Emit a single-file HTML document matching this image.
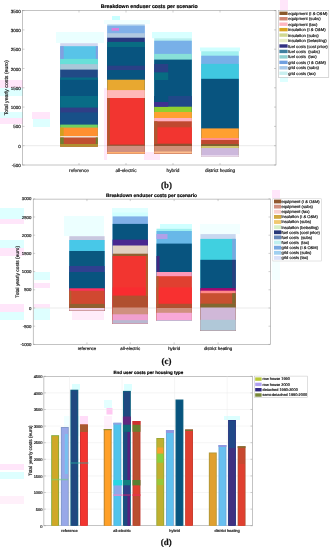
<!DOCTYPE html>
<html><head><meta charset="utf-8"><title>Enduser costs per scenario</title>
<style>html,body{margin:0;padding:0;background:#fff;overflow:hidden}svg{display:block}text{white-space:pre;text-rendering:geometricPrecision}</style>
</head><body>
<svg width="335" height="550" viewBox="0 0 335 550" shape-rendering="auto">
<rect width="335" height="550" fill="#fff"/>
<rect x="0.00" y="80.00" width="23.00" height="8.00" fill="#FFE6FA" />
<rect x="0.00" y="88.00" width="23.00" height="8.00" fill="#DEFFFF" />
<rect x="0.00" y="112.00" width="23.00" height="6.00" fill="#DEFFFF" />
<rect x="0.00" y="118.00" width="23.00" height="6.00" fill="#FFE6FA" />
<rect x="32.00" y="112.00" width="18.00" height="7.00" fill="#FFE6FA" />
<rect x="33.00" y="119.00" width="17.00" height="8.00" fill="#DEFFFF" />
<rect x="56.00" y="32.00" width="48.00" height="11.00" fill="#EAFFFF" />
<rect x="112.00" y="16.00" width="8.00" height="8.00" fill="#C8FFFF" />
<rect x="104.00" y="20.00" width="46.00" height="4.00" fill="#F0FFFF" />
<rect x="152.00" y="32.00" width="40.00" height="6.20" fill="#D8FFFF" />
<rect x="200.00" y="47.50" width="40.00" height="3.70" fill="#D0FFFF" />
<rect x="280.00" y="0.00" width="8.00" height="10.40" fill="#FFE6FA" />
<rect x="280.00" y="76.80" width="8.00" height="5.20" fill="#DEFFFF" />
<rect x="104.00" y="88.00" width="3.00" height="72.00" fill="#FFE8FA" />
<rect x="144.00" y="152.00" width="16.00" height="8.00" fill="#FFE8FA" />
<rect x="0.00" y="208.00" width="24.00" height="11.00" fill="#DEFFFF" />
<rect x="0.00" y="219.00" width="24.00" height="5.00" fill="#FFE6FA" />
<rect x="0.00" y="240.00" width="24.00" height="8.00" fill="#DEFFFF" />
<rect x="0.00" y="248.00" width="24.00" height="8.00" fill="#FFE6FA" />
<rect x="0.00" y="304.00" width="24.00" height="8.00" fill="#FFE6FA" />
<rect x="0.00" y="312.00" width="24.00" height="8.00" fill="#DEFFFF" />
<rect x="34.00" y="272.00" width="16.00" height="8.00" fill="#DEFFFF" />
<rect x="34.00" y="283.00" width="16.00" height="5.00" fill="#FFE6FA" />
<rect x="34.00" y="304.00" width="16.00" height="3.50" fill="#FFE6FA" />
<rect x="34.00" y="308.50" width="16.00" height="11.50" fill="#DEFFFF" />
<rect x="64.00" y="216.00" width="40.00" height="20.00" fill="#ECFFFF" />
<rect x="112.00" y="208.00" width="36.00" height="8.40" fill="#E0FFFF" />
<rect x="160.00" y="224.00" width="32.00" height="4.70" fill="#D0FFFF" />
<rect x="200.00" y="224.00" width="40.00" height="10.00" fill="#F2FFFF" />
<rect x="272.00" y="190.00" width="8.00" height="8.60" fill="#FFE6FA" />
<rect x="272.00" y="261.20" width="8.00" height="18.80" fill="#F4FFFF" />
<rect x="72.00" y="310.60" width="32.00" height="9.40" fill="#FFECFA" />
<rect x="0.00" y="464.00" width="24.00" height="6.00" fill="#FFE6FA" />
<rect x="0.00" y="472.00" width="24.00" height="7.00" fill="#DEFFFF" />
<rect x="0.00" y="496.00" width="24.00" height="8.00" fill="#FFF0FA" />
<rect x="80.00" y="416.00" width="8.00" height="8.50" fill="#FFDCF8" />
<rect x="106.50" y="408.00" width="6.00" height="6.50" fill="#FFC8F2" />
<rect x="104.00" y="400.00" width="8.00" height="8.00" fill="#E4FFFF" />
<rect x="104.00" y="416.00" width="8.00" height="13.00" fill="#FFF0FC" />
<rect x="64.00" y="416.00" width="16.00" height="20.00" fill="#F0FFFF" />
<rect x="72.00" y="384.00" width="8.00" height="6.00" fill="#DCFFFF" />
<rect x="124.00" y="384.00" width="8.00" height="7.00" fill="#DCFFFF" />
<rect x="224.00" y="416.00" width="16.00" height="4.00" fill="#DCFFFF" />
<rect x="22.50" y="10.50" width="253.50" height="154.50" fill="none" stroke="#888888" stroke-width="0.5"/>
<line x1="22.50" y1="145.70" x2="276.00" y2="145.70" stroke="#d4d4d4" stroke-width="0.5"/>
<line x1="22.50" y1="165.00" x2="24.50" y2="165.00" stroke="#888888" stroke-width="0.4"/>
<line x1="274.00" y1="165.00" x2="276.00" y2="165.00" stroke="#888888" stroke-width="0.4"/>
<text x="20.70" y="167.00" font-size="4.5" text-anchor="end" font-weight="normal" font-family='"Liberation Sans", sans-serif' fill="#1a1a1a" stroke="#1a1a1a" stroke-width="0.18" >-500</text>
<line x1="22.50" y1="145.70" x2="24.50" y2="145.70" stroke="#888888" stroke-width="0.4"/>
<line x1="274.00" y1="145.70" x2="276.00" y2="145.70" stroke="#888888" stroke-width="0.4"/>
<text x="20.70" y="147.70" font-size="4.5" text-anchor="end" font-weight="normal" font-family='"Liberation Sans", sans-serif' fill="#1a1a1a" stroke="#1a1a1a" stroke-width="0.18" >0</text>
<line x1="22.50" y1="126.40" x2="24.50" y2="126.40" stroke="#888888" stroke-width="0.4"/>
<line x1="274.00" y1="126.40" x2="276.00" y2="126.40" stroke="#888888" stroke-width="0.4"/>
<text x="20.70" y="128.40" font-size="4.5" text-anchor="end" font-weight="normal" font-family='"Liberation Sans", sans-serif' fill="#1a1a1a" stroke="#1a1a1a" stroke-width="0.18" >500</text>
<line x1="22.50" y1="107.10" x2="24.50" y2="107.10" stroke="#888888" stroke-width="0.4"/>
<line x1="274.00" y1="107.10" x2="276.00" y2="107.10" stroke="#888888" stroke-width="0.4"/>
<text x="20.70" y="109.10" font-size="4.5" text-anchor="end" font-weight="normal" font-family='"Liberation Sans", sans-serif' fill="#1a1a1a" stroke="#1a1a1a" stroke-width="0.18" >1000</text>
<line x1="22.50" y1="87.80" x2="24.50" y2="87.80" stroke="#888888" stroke-width="0.4"/>
<line x1="274.00" y1="87.80" x2="276.00" y2="87.80" stroke="#888888" stroke-width="0.4"/>
<text x="20.70" y="89.80" font-size="4.5" text-anchor="end" font-weight="normal" font-family='"Liberation Sans", sans-serif' fill="#1a1a1a" stroke="#1a1a1a" stroke-width="0.18" >1500</text>
<line x1="22.50" y1="68.50" x2="24.50" y2="68.50" stroke="#888888" stroke-width="0.4"/>
<line x1="274.00" y1="68.50" x2="276.00" y2="68.50" stroke="#888888" stroke-width="0.4"/>
<text x="20.70" y="70.50" font-size="4.5" text-anchor="end" font-weight="normal" font-family='"Liberation Sans", sans-serif' fill="#1a1a1a" stroke="#1a1a1a" stroke-width="0.18" >2000</text>
<line x1="22.50" y1="49.20" x2="24.50" y2="49.20" stroke="#888888" stroke-width="0.4"/>
<line x1="274.00" y1="49.20" x2="276.00" y2="49.20" stroke="#888888" stroke-width="0.4"/>
<text x="20.70" y="51.20" font-size="4.5" text-anchor="end" font-weight="normal" font-family='"Liberation Sans", sans-serif' fill="#1a1a1a" stroke="#1a1a1a" stroke-width="0.18" >2500</text>
<line x1="22.50" y1="29.90" x2="24.50" y2="29.90" stroke="#888888" stroke-width="0.4"/>
<line x1="274.00" y1="29.90" x2="276.00" y2="29.90" stroke="#888888" stroke-width="0.4"/>
<text x="20.70" y="31.90" font-size="4.5" text-anchor="end" font-weight="normal" font-family='"Liberation Sans", sans-serif' fill="#1a1a1a" stroke="#1a1a1a" stroke-width="0.18" >3000</text>
<line x1="22.50" y1="10.60" x2="24.50" y2="10.60" stroke="#888888" stroke-width="0.4"/>
<line x1="274.00" y1="10.60" x2="276.00" y2="10.60" stroke="#888888" stroke-width="0.4"/>
<text x="20.70" y="12.60" font-size="4.5" text-anchor="end" font-weight="normal" font-family='"Liberation Sans", sans-serif' fill="#1a1a1a" stroke="#1a1a1a" stroke-width="0.18" >3500</text>
<line x1="79.00" y1="165.00" x2="79.00" y2="163.00" stroke="#888888" stroke-width="0.4"/>
<line x1="79.00" y1="10.50" x2="79.00" y2="12.50" stroke="#888888" stroke-width="0.4"/>
<text x="79.00" y="172.10" font-size="4.7" text-anchor="middle" font-weight="normal" font-family='"Liberation Sans", sans-serif' fill="#1a1a1a" stroke="#1a1a1a" stroke-width="0.18" >reference</text>
<line x1="126.00" y1="165.00" x2="126.00" y2="163.00" stroke="#888888" stroke-width="0.4"/>
<line x1="126.00" y1="10.50" x2="126.00" y2="12.50" stroke="#888888" stroke-width="0.4"/>
<text x="126.00" y="172.10" font-size="4.7" text-anchor="middle" font-weight="normal" font-family='"Liberation Sans", sans-serif' fill="#1a1a1a" stroke="#1a1a1a" stroke-width="0.18" >all-electric</text>
<line x1="173.00" y1="165.00" x2="173.00" y2="163.00" stroke="#888888" stroke-width="0.4"/>
<line x1="173.00" y1="10.50" x2="173.00" y2="12.50" stroke="#888888" stroke-width="0.4"/>
<text x="173.00" y="172.10" font-size="4.7" text-anchor="middle" font-weight="normal" font-family='"Liberation Sans", sans-serif' fill="#1a1a1a" stroke="#1a1a1a" stroke-width="0.18" >hybrid</text>
<line x1="220.00" y1="165.00" x2="220.00" y2="163.00" stroke="#888888" stroke-width="0.4"/>
<line x1="220.00" y1="10.50" x2="220.00" y2="12.50" stroke="#888888" stroke-width="0.4"/>
<text x="220.00" y="172.10" font-size="4.7" text-anchor="middle" font-weight="normal" font-family='"Liberation Sans", sans-serif' fill="#1a1a1a" stroke="#1a1a1a" stroke-width="0.18" >district heating</text>
<text x="149.30" y="8.20" font-size="5.2" text-anchor="middle" font-weight="bold" font-family='"Liberation Sans", sans-serif' fill="#000" stroke="#000" stroke-width="0.18" >Breakdown enduser costs per scenario</text>
<text x="8.00" y="87.80" font-size="5.2" text-anchor="middle" font-weight="normal" font-family='"Liberation Sans", sans-serif' fill="#1a1a1a" stroke="#1a1a1a" stroke-width="0.18" transform="rotate(-90 8.00 87.80)" >Total yearly costs (euro)</text>
<rect x="60.20" y="43.20" width="37.60" height="103.50" fill="#D0D8F0" />
<rect x="60.20" y="46.20" width="37.60" height="100.50" fill="#58C4E8" />
<rect x="60.20" y="58.90" width="37.60" height="87.80" fill="#68E0D8" />
<rect x="60.20" y="64.10" width="37.60" height="82.60" fill="#A8C8D8" />
<rect x="60.20" y="69.60" width="37.60" height="77.10" fill="#214A86" />
<rect x="60.20" y="77.50" width="37.60" height="69.20" fill="#086C86" />
<rect x="60.20" y="79.80" width="37.60" height="66.90" fill="#08547F" />
<rect x="60.20" y="96.00" width="37.60" height="50.70" fill="#086C86" />
<rect x="60.20" y="107.60" width="37.60" height="39.10" fill="#303E86" />
<rect x="60.20" y="112.40" width="37.60" height="34.30" fill="#185088" />
<rect x="60.20" y="124.60" width="37.60" height="22.10" fill="#70D060" />
<rect x="60.20" y="127.60" width="37.60" height="19.10" fill="#FF9030" />
<rect x="60.20" y="136.00" width="37.60" height="10.70" fill="#F0E0D0" />
<rect x="60.20" y="137.50" width="37.60" height="9.20" fill="#C05030" />
<rect x="60.20" y="144.00" width="37.60" height="2.70" fill="#B09030" />
<rect x="60.20" y="46.20" width="3.50" height="12.70" fill="#80A0E0" />
<rect x="95.80" y="46.20" width="2.00" height="12.70" fill="#80A0E0" />
<rect x="60.20" y="127.60" width="3.50" height="8.40" fill="#D0A020" />
<rect x="60.20" y="137.50" width="3.50" height="6.50" fill="#708030" />
<rect x="95.80" y="137.50" width="2.00" height="6.50" fill="#708030" />
<rect x="107.20" y="24.30" width="37.60" height="129.30" fill="#B8D8F0" />
<rect x="107.20" y="25.70" width="37.60" height="127.90" fill="#80B0E8" />
<rect x="107.20" y="33.20" width="37.60" height="120.40" fill="#B0C8E0" />
<rect x="107.20" y="37.70" width="37.60" height="115.90" fill="#283880" />
<rect x="107.20" y="41.90" width="37.60" height="111.70" fill="#086C82" />
<rect x="107.20" y="47.00" width="37.60" height="106.60" fill="#08547F" />
<rect x="107.20" y="65.70" width="37.60" height="87.90" fill="#2A4086" />
<rect x="107.20" y="70.00" width="37.60" height="83.60" fill="#08547F" />
<rect x="107.20" y="79.70" width="37.60" height="73.90" fill="#E8A830" />
<rect x="107.20" y="90.10" width="37.60" height="63.50" fill="#FFB8B8" />
<rect x="107.20" y="98.00" width="37.60" height="55.60" fill="#F23530" />
<rect x="107.20" y="144.60" width="37.60" height="9.00" fill="#905030" />
<rect x="107.20" y="145.80" width="37.60" height="7.80" fill="#D09080" />
<rect x="107.20" y="152.00" width="37.60" height="1.60" fill="#FFB070" />
<rect x="107.20" y="98.00" width="2.60" height="47.00" fill="#B05830" />
<rect x="144.00" y="98.00" width="0.80" height="47.00" fill="#A05030" />
<rect x="111.60" y="28.00" width="7.40" height="2.70" fill="#D880E0" />
<rect x="154.20" y="38.20" width="37.60" height="115.20" fill="#B8F0F0" />
<rect x="154.20" y="40.70" width="37.60" height="112.70" fill="#78B0E8" />
<rect x="154.20" y="53.90" width="37.60" height="99.50" fill="#88E0D8" />
<rect x="154.20" y="59.60" width="37.60" height="93.80" fill="#08547F" />
<rect x="154.20" y="96.00" width="37.60" height="57.40" fill="#204888" />
<rect x="154.20" y="106.70" width="37.60" height="46.70" fill="#90D030" />
<rect x="154.20" y="112.00" width="37.60" height="41.40" fill="#FFA030" />
<rect x="154.20" y="118.00" width="37.60" height="35.40" fill="#FFB0C0" />
<rect x="154.20" y="121.30" width="37.60" height="32.10" fill="#C04830" />
<rect x="154.20" y="127.30" width="37.60" height="26.10" fill="#F23530" />
<rect x="154.20" y="143.70" width="37.60" height="9.70" fill="#905030" />
<rect x="154.20" y="146.00" width="37.60" height="7.40" fill="#D09078" />
<rect x="154.20" y="151.50" width="37.60" height="1.90" fill="#FFC090" />
<rect x="154.20" y="64.00" width="14.00" height="8.50" fill="#2A4086" />
<rect x="154.20" y="72.50" width="14.00" height="7.50" fill="#086C82" />
<rect x="154.20" y="96.00" width="14.00" height="6.00" fill="#08547F" />
<rect x="154.20" y="102.00" width="14.00" height="4.70" fill="#403090" />
<rect x="154.20" y="121.30" width="3.20" height="22.40" fill="#B05830" />
<rect x="201.20" y="51.20" width="37.60" height="105.50" fill="#A0F0F0" />
<rect x="201.20" y="55.70" width="37.60" height="101.00" fill="#78B0E8" />
<rect x="201.20" y="63.90" width="37.60" height="92.80" fill="#40C8E0" />
<rect x="201.20" y="78.80" width="37.60" height="77.90" fill="#08547F" />
<rect x="201.20" y="128.40" width="37.60" height="28.30" fill="#FFA030" />
<rect x="201.20" y="138.00" width="37.60" height="18.70" fill="#FF9090" />
<rect x="201.20" y="140.00" width="37.60" height="16.70" fill="#C04830" />
<rect x="201.20" y="144.00" width="37.60" height="12.70" fill="#806030" />
<rect x="201.20" y="146.00" width="37.60" height="10.70" fill="#D0C870" />
<rect x="201.20" y="148.00" width="37.60" height="8.70" fill="#CDB8DC" />
<rect x="201.20" y="155.20" width="37.60" height="1.50" fill="#EBDCF0" />
<rect x="278.50" y="10.50" width="50.30" height="66.90" fill="#fff" stroke="#b0b0b0" stroke-width="0.5"/>
<rect x="279.40" y="11.60" width="8.20" height="3.40" fill="#8B5A2B" />
<text x="288.20" y="14.80" font-size="4.2" text-anchor="start" font-weight="normal" font-family='"Liberation Sans", sans-serif' fill="#1a1a1a" stroke="#1a1a1a" stroke-width="0.18" >equipment (I &amp; O&amp;M)</text>
<rect x="279.40" y="17.05" width="8.20" height="3.40" fill="#D08570" />
<text x="288.20" y="20.25" font-size="4.2" text-anchor="start" font-weight="normal" font-family='"Liberation Sans", sans-serif' fill="#1a1a1a" stroke="#1a1a1a" stroke-width="0.18" >equipment (subs)</text>
<rect x="279.40" y="22.50" width="8.20" height="3.40" fill="#FFB6C1" />
<text x="288.20" y="25.70" font-size="4.2" text-anchor="start" font-weight="normal" font-family='"Liberation Sans", sans-serif' fill="#1a1a1a" stroke="#1a1a1a" stroke-width="0.18" >equipment (tax)</text>
<rect x="279.40" y="27.95" width="8.20" height="3.40" fill="#DAA520" />
<text x="288.20" y="31.15" font-size="4.2" text-anchor="start" font-weight="normal" font-family='"Liberation Sans", sans-serif' fill="#1a1a1a" stroke="#1a1a1a" stroke-width="0.18" >insulation (I &amp; O&amp;M)</text>
<rect x="279.40" y="33.40" width="8.20" height="3.40" fill="#D0D890" />
<text x="288.20" y="36.60" font-size="4.2" text-anchor="start" font-weight="normal" font-family='"Liberation Sans", sans-serif' fill="#1a1a1a" stroke="#1a1a1a" stroke-width="0.18" >insulation (subs)</text>
<rect x="279.40" y="38.85" width="8.20" height="3.40" fill="#E8EEC8" />
<text x="288.20" y="42.05" font-size="4.2" text-anchor="start" font-weight="normal" font-family='"Liberation Sans", sans-serif' fill="#1a1a1a" stroke="#1a1a1a" stroke-width="0.18" >insulation (belasting)</text>
<rect x="279.40" y="44.30" width="8.20" height="3.40" fill="#303080" />
<text x="288.20" y="47.50" font-size="4.2" text-anchor="start" font-weight="normal" font-family='"Liberation Sans", sans-serif' fill="#1a1a1a" stroke="#1a1a1a" stroke-width="0.18" >fuel costs (cost price)</text>
<rect x="279.40" y="49.75" width="8.20" height="3.40" fill="#4080A0" />
<text x="288.20" y="52.95" font-size="4.2" text-anchor="start" font-weight="normal" font-family='"Liberation Sans", sans-serif' fill="#1a1a1a" stroke="#1a1a1a" stroke-width="0.18" >fuel costs  (subs)</text>
<rect x="279.40" y="55.20" width="8.20" height="3.40" fill="#90D0D0" />
<text x="288.20" y="58.40" font-size="4.2" text-anchor="start" font-weight="normal" font-family='"Liberation Sans", sans-serif' fill="#1a1a1a" stroke="#1a1a1a" stroke-width="0.18" >fuel costs  (tax)</text>
<rect x="279.40" y="60.65" width="8.20" height="3.40" fill="#70A0E0" />
<text x="288.20" y="63.85" font-size="4.2" text-anchor="start" font-weight="normal" font-family='"Liberation Sans", sans-serif' fill="#1a1a1a" stroke="#1a1a1a" stroke-width="0.18" >grid costs (I &amp; O&amp;M)</text>
<rect x="279.40" y="66.10" width="8.20" height="3.40" fill="#A8C8E8" />
<text x="288.20" y="69.30" font-size="4.2" text-anchor="start" font-weight="normal" font-family='"Liberation Sans", sans-serif' fill="#1a1a1a" stroke="#1a1a1a" stroke-width="0.18" >grid costs (subs)</text>
<rect x="279.40" y="71.55" width="8.20" height="3.40" fill="#C8F0F0" />
<text x="288.20" y="74.75" font-size="4.2" text-anchor="start" font-weight="normal" font-family='"Liberation Sans", sans-serif' fill="#1a1a1a" stroke="#1a1a1a" stroke-width="0.18" >grid costs (tax)</text>
<text x="166.50" y="188.00" font-size="8.9" text-anchor="middle" font-weight="bold" font-family='"Liberation Serif", serif' fill="#111" stroke="#111" stroke-width="0.18" >(b)</text>
<rect x="33.20" y="199.10" width="237.30" height="145.20" fill="none" stroke="#888888" stroke-width="0.5"/>
<line x1="33.20" y1="308.00" x2="270.50" y2="308.00" stroke="#d4d4d4" stroke-width="0.5"/>
<line x1="33.20" y1="344.40" x2="35.20" y2="344.40" stroke="#888888" stroke-width="0.4"/>
<line x1="268.50" y1="344.40" x2="270.50" y2="344.40" stroke="#888888" stroke-width="0.4"/>
<text x="31.40" y="345.95" font-size="4.3" text-anchor="end" font-weight="normal" font-family='"Liberation Sans", sans-serif' fill="#1a1a1a" stroke="#1a1a1a" stroke-width="0.18" >-1000</text>
<line x1="33.20" y1="326.20" x2="35.20" y2="326.20" stroke="#888888" stroke-width="0.4"/>
<line x1="268.50" y1="326.20" x2="270.50" y2="326.20" stroke="#888888" stroke-width="0.4"/>
<text x="31.40" y="327.75" font-size="4.3" text-anchor="end" font-weight="normal" font-family='"Liberation Sans", sans-serif' fill="#1a1a1a" stroke="#1a1a1a" stroke-width="0.18" >-500</text>
<line x1="33.20" y1="308.00" x2="35.20" y2="308.00" stroke="#888888" stroke-width="0.4"/>
<line x1="268.50" y1="308.00" x2="270.50" y2="308.00" stroke="#888888" stroke-width="0.4"/>
<text x="31.40" y="309.55" font-size="4.3" text-anchor="end" font-weight="normal" font-family='"Liberation Sans", sans-serif' fill="#1a1a1a" stroke="#1a1a1a" stroke-width="0.18" >0</text>
<line x1="33.20" y1="289.80" x2="35.20" y2="289.80" stroke="#888888" stroke-width="0.4"/>
<line x1="268.50" y1="289.80" x2="270.50" y2="289.80" stroke="#888888" stroke-width="0.4"/>
<text x="31.40" y="291.35" font-size="4.3" text-anchor="end" font-weight="normal" font-family='"Liberation Sans", sans-serif' fill="#1a1a1a" stroke="#1a1a1a" stroke-width="0.18" >500</text>
<line x1="33.20" y1="271.60" x2="35.20" y2="271.60" stroke="#888888" stroke-width="0.4"/>
<line x1="268.50" y1="271.60" x2="270.50" y2="271.60" stroke="#888888" stroke-width="0.4"/>
<text x="31.40" y="273.15" font-size="4.3" text-anchor="end" font-weight="normal" font-family='"Liberation Sans", sans-serif' fill="#1a1a1a" stroke="#1a1a1a" stroke-width="0.18" >1000</text>
<line x1="33.20" y1="253.40" x2="35.20" y2="253.40" stroke="#888888" stroke-width="0.4"/>
<line x1="268.50" y1="253.40" x2="270.50" y2="253.40" stroke="#888888" stroke-width="0.4"/>
<text x="31.40" y="254.95" font-size="4.3" text-anchor="end" font-weight="normal" font-family='"Liberation Sans", sans-serif' fill="#1a1a1a" stroke="#1a1a1a" stroke-width="0.18" >1500</text>
<line x1="33.20" y1="235.20" x2="35.20" y2="235.20" stroke="#888888" stroke-width="0.4"/>
<line x1="268.50" y1="235.20" x2="270.50" y2="235.20" stroke="#888888" stroke-width="0.4"/>
<text x="31.40" y="236.75" font-size="4.3" text-anchor="end" font-weight="normal" font-family='"Liberation Sans", sans-serif' fill="#1a1a1a" stroke="#1a1a1a" stroke-width="0.18" >2000</text>
<line x1="33.20" y1="217.00" x2="35.20" y2="217.00" stroke="#888888" stroke-width="0.4"/>
<line x1="268.50" y1="217.00" x2="270.50" y2="217.00" stroke="#888888" stroke-width="0.4"/>
<text x="31.40" y="218.55" font-size="4.3" text-anchor="end" font-weight="normal" font-family='"Liberation Sans", sans-serif' fill="#1a1a1a" stroke="#1a1a1a" stroke-width="0.18" >2500</text>
<line x1="33.20" y1="198.80" x2="35.20" y2="198.80" stroke="#888888" stroke-width="0.4"/>
<line x1="268.50" y1="198.80" x2="270.50" y2="198.80" stroke="#888888" stroke-width="0.4"/>
<text x="31.40" y="200.35" font-size="4.3" text-anchor="end" font-weight="normal" font-family='"Liberation Sans", sans-serif' fill="#1a1a1a" stroke="#1a1a1a" stroke-width="0.18" >3000</text>
<line x1="86.95" y1="344.30" x2="86.95" y2="342.30" stroke="#888888" stroke-width="0.4"/>
<line x1="86.95" y1="199.10" x2="86.95" y2="201.10" stroke="#888888" stroke-width="0.4"/>
<text x="86.95" y="350.30" font-size="4.4" text-anchor="middle" font-weight="normal" font-family='"Liberation Sans", sans-serif' fill="#1a1a1a" stroke="#1a1a1a" stroke-width="0.18" >reference</text>
<line x1="130.25" y1="344.30" x2="130.25" y2="342.30" stroke="#888888" stroke-width="0.4"/>
<line x1="130.25" y1="199.10" x2="130.25" y2="201.10" stroke="#888888" stroke-width="0.4"/>
<text x="130.25" y="350.30" font-size="4.4" text-anchor="middle" font-weight="normal" font-family='"Liberation Sans", sans-serif' fill="#1a1a1a" stroke="#1a1a1a" stroke-width="0.18" >all-electric</text>
<line x1="174.15" y1="344.30" x2="174.15" y2="342.30" stroke="#888888" stroke-width="0.4"/>
<line x1="174.15" y1="199.10" x2="174.15" y2="201.10" stroke="#888888" stroke-width="0.4"/>
<text x="174.15" y="350.30" font-size="4.4" text-anchor="middle" font-weight="normal" font-family='"Liberation Sans", sans-serif' fill="#1a1a1a" stroke="#1a1a1a" stroke-width="0.18" >hybrid</text>
<line x1="218.05" y1="344.30" x2="218.05" y2="342.30" stroke="#888888" stroke-width="0.4"/>
<line x1="218.05" y1="199.10" x2="218.05" y2="201.10" stroke="#888888" stroke-width="0.4"/>
<text x="218.05" y="350.30" font-size="4.4" text-anchor="middle" font-weight="normal" font-family='"Liberation Sans", sans-serif' fill="#1a1a1a" stroke="#1a1a1a" stroke-width="0.18" >district heating</text>
<text x="151.50" y="196.70" font-size="4.88" text-anchor="middle" font-weight="bold" font-family='"Liberation Sans", sans-serif' fill="#000" stroke="#000" stroke-width="0.18" >Breakdown enduser costs per scenario</text>
<text x="18.60" y="271.80" font-size="4.9" text-anchor="middle" font-weight="normal" font-family='"Liberation Sans", sans-serif' fill="#1a1a1a" stroke="#1a1a1a" stroke-width="0.18" transform="rotate(-90 18.60 271.80)" >Total yearly costs (euro)</text>
<rect x="69.30" y="236.20" width="35.30" height="74.40" fill="#C8C8E0" />
<rect x="69.30" y="240.00" width="35.30" height="70.60" fill="#48C8E8" />
<rect x="69.30" y="251.00" width="35.30" height="59.60" fill="#0A5880" />
<rect x="69.30" y="266.00" width="35.30" height="44.60" fill="#304090" />
<rect x="69.30" y="272.00" width="35.30" height="38.60" fill="#08547F" />
<rect x="69.30" y="288.30" width="35.30" height="22.30" fill="#FF3060" />
<rect x="69.30" y="290.70" width="35.30" height="19.90" fill="#D04830" />
<rect x="69.30" y="303.90" width="35.30" height="6.70" fill="#906030" />
<rect x="69.30" y="308.00" width="35.30" height="2.60" fill="#F0D0E8" />
<rect x="69.30" y="290.70" width="2.00" height="13.20" fill="#B06030" />
<rect x="112.60" y="212.50" width="35.30" height="111.00" fill="#D0FFFF" />
<rect x="112.60" y="216.40" width="35.30" height="107.10" fill="#80B0E8" />
<rect x="112.60" y="223.90" width="35.30" height="99.60" fill="#08547F" />
<rect x="112.60" y="239.60" width="35.30" height="83.90" fill="#482890" />
<rect x="112.60" y="245.50" width="35.30" height="78.00" fill="#E0D0C0" />
<rect x="112.60" y="253.70" width="35.30" height="69.80" fill="#906030" />
<rect x="112.60" y="256.00" width="35.30" height="67.50" fill="#F23530" />
<rect x="112.60" y="287.40" width="35.30" height="36.10" fill="#F82C30" />
<rect x="112.60" y="295.60" width="35.30" height="27.90" fill="#B05030" />
<rect x="112.60" y="307.50" width="35.30" height="16.00" fill="#D09080" />
<rect x="112.60" y="314.30" width="35.30" height="9.20" fill="#F0A0D0" />
<rect x="112.60" y="320.20" width="35.30" height="3.30" fill="#B8B8D0" />
<rect x="145.90" y="256.00" width="2.00" height="40.00" fill="#B06030" />
<rect x="156.50" y="228.70" width="35.30" height="92.30" fill="#A0F0F0" />
<rect x="156.50" y="231.00" width="35.30" height="90.00" fill="#68B8E8" />
<rect x="156.50" y="243.60" width="35.30" height="77.40" fill="#08547F" />
<rect x="156.50" y="272.00" width="35.30" height="49.00" fill="#FF98B8" />
<rect x="156.50" y="276.20" width="35.30" height="44.80" fill="#E04030" />
<rect x="156.50" y="287.40" width="35.30" height="33.60" fill="#F83030" />
<rect x="156.50" y="303.80" width="35.30" height="17.20" fill="#B05030" />
<rect x="156.50" y="308.00" width="35.30" height="13.00" fill="#D09080" />
<rect x="156.50" y="312.80" width="35.30" height="8.20" fill="#F8A8D8" />
<rect x="156.50" y="320.20" width="35.30" height="0.80" fill="#B8B8D0" />
<rect x="156.50" y="234.00" width="11.00" height="5.00" fill="#B0A0E8" />
<rect x="156.50" y="256.00" width="3.00" height="16.00" fill="#402880" />
<rect x="156.50" y="276.20" width="2.00" height="31.00" fill="#B06030" />
<rect x="200.40" y="234.10" width="35.30" height="96.40" fill="#C8D8F0" />
<rect x="200.40" y="238.90" width="35.30" height="91.60" fill="#40D0E0" />
<rect x="200.40" y="259.80" width="35.30" height="70.70" fill="#08547F" />
<rect x="200.40" y="288.10" width="35.30" height="42.40" fill="#A00870" />
<rect x="200.40" y="290.70" width="35.30" height="39.80" fill="#FF8888" />
<rect x="200.40" y="293.20" width="35.30" height="37.30" fill="#C85030" />
<rect x="200.40" y="303.70" width="35.30" height="26.80" fill="#806830" />
<rect x="200.40" y="307.50" width="35.30" height="23.00" fill="#D0B8D8" />
<rect x="200.40" y="319.80" width="35.30" height="10.70" fill="#B0C8D8" />
<rect x="232.20" y="238.90" width="3.50" height="20.90" fill="#78A8E0" />
<rect x="232.20" y="259.80" width="3.50" height="28.30" fill="#284080" />
<rect x="232.20" y="293.20" width="3.50" height="10.50" fill="#806830" />
<rect x="272.80" y="198.80" width="48.60" height="62.20" fill="#fff" stroke="#c8c8c8" stroke-width="0.5"/>
<rect x="274.00" y="199.60" width="7.30" height="3.80" fill="#905830" />
<text x="281.60" y="202.90" font-size="4.05" text-anchor="start" font-weight="normal" font-family='"Liberation Sans", sans-serif' fill="#1a1a1a" stroke="#1a1a1a" stroke-width="0.18" >equipment (I &amp; O&amp;M)</text>
<rect x="274.00" y="204.73" width="7.30" height="3.80" fill="#D09080" />
<text x="281.60" y="208.03" font-size="4.05" text-anchor="start" font-weight="normal" font-family='"Liberation Sans", sans-serif' fill="#1a1a1a" stroke="#1a1a1a" stroke-width="0.18" >equipment (subs)</text>
<rect x="274.00" y="209.86" width="7.30" height="3.80" fill="#F8D0D0" />
<text x="281.60" y="213.16" font-size="4.05" text-anchor="start" font-weight="normal" font-family='"Liberation Sans", sans-serif' fill="#1a1a1a" stroke="#1a1a1a" stroke-width="0.18" >equipment (tax)</text>
<rect x="274.00" y="214.99" width="7.30" height="3.80" fill="#D0A840" />
<text x="281.60" y="218.29" font-size="4.05" text-anchor="start" font-weight="normal" font-family='"Liberation Sans", sans-serif' fill="#1a1a1a" stroke="#1a1a1a" stroke-width="0.18" >insulation (I &amp; O&amp;M)</text>
<rect x="274.00" y="220.12" width="7.30" height="3.80" fill="#F0C870" />
<text x="281.60" y="223.42" font-size="4.05" text-anchor="start" font-weight="normal" font-family='"Liberation Sans", sans-serif' fill="#1a1a1a" stroke="#1a1a1a" stroke-width="0.18" >insulation (subs)</text>
<rect x="274.00" y="225.25" width="7.30" height="3.80" fill="#D8F0C8" />
<text x="281.60" y="228.55" font-size="4.05" text-anchor="start" font-weight="normal" font-family='"Liberation Sans", sans-serif' fill="#1a1a1a" stroke="#1a1a1a" stroke-width="0.18" >insulation (belasting)</text>
<rect x="274.00" y="230.38" width="7.30" height="3.80" fill="#283878" />
<text x="281.60" y="233.68" font-size="4.05" text-anchor="start" font-weight="normal" font-family='"Liberation Sans", sans-serif' fill="#1a1a1a" stroke="#1a1a1a" stroke-width="0.18" >fuel costs (cost price)</text>
<rect x="274.00" y="235.51" width="7.30" height="3.80" fill="#6888B8" />
<text x="281.60" y="238.81" font-size="4.05" text-anchor="start" font-weight="normal" font-family='"Liberation Sans", sans-serif' fill="#1a1a1a" stroke="#1a1a1a" stroke-width="0.18" >fuel costs  (subs)</text>
<rect x="274.00" y="240.64" width="7.30" height="3.80" fill="#C0F0F0" />
<text x="281.60" y="243.94" font-size="4.05" text-anchor="start" font-weight="normal" font-family='"Liberation Sans", sans-serif' fill="#1a1a1a" stroke="#1a1a1a" stroke-width="0.18" >fuel costs  (tax)</text>
<rect x="274.00" y="245.77" width="7.30" height="3.80" fill="#78A8E0" />
<text x="281.60" y="249.07" font-size="4.05" text-anchor="start" font-weight="normal" font-family='"Liberation Sans", sans-serif' fill="#1a1a1a" stroke="#1a1a1a" stroke-width="0.18" >grid costs (I &amp; O&amp;M)</text>
<rect x="274.00" y="250.90" width="7.30" height="3.80" fill="#A0D0F0" />
<text x="281.60" y="254.20" font-size="4.05" text-anchor="start" font-weight="normal" font-family='"Liberation Sans", sans-serif' fill="#1a1a1a" stroke="#1a1a1a" stroke-width="0.18" >grid costs (subs)</text>
<rect x="274.00" y="256.03" width="7.30" height="3.80" fill="#D8E0F8" />
<text x="281.60" y="259.33" font-size="4.05" text-anchor="start" font-weight="normal" font-family='"Liberation Sans", sans-serif' fill="#1a1a1a" stroke="#1a1a1a" stroke-width="0.18" >grid costs (tax)</text>
<text x="166.50" y="363.80" font-size="8.9" text-anchor="middle" font-weight="bold" font-family='"Liberation Serif", serif' fill="#111" stroke="#111" stroke-width="0.18" >(c)</text>
<rect x="43.90" y="376.35" width="208.60" height="149.40" fill="none" stroke="#888888" stroke-width="0.5"/>
<line x1="43.90" y1="525.75" x2="45.90" y2="525.75" stroke="#888888" stroke-width="0.4"/>
<line x1="250.50" y1="525.75" x2="252.50" y2="525.75" stroke="#888888" stroke-width="0.4"/>
<text x="42.40" y="527.50" font-size="3.95" text-anchor="end" font-weight="normal" font-family='"Liberation Sans", sans-serif' fill="#1a1a1a" stroke="#1a1a1a" stroke-width="0.18" >0</text>
<line x1="43.90" y1="509.14" x2="252.50" y2="509.14" stroke="#eaeaea" stroke-width="0.5"/>
<line x1="43.90" y1="509.14" x2="45.90" y2="509.14" stroke="#888888" stroke-width="0.4"/>
<line x1="250.50" y1="509.14" x2="252.50" y2="509.14" stroke="#888888" stroke-width="0.4"/>
<text x="42.40" y="510.89" font-size="3.95" text-anchor="end" font-weight="normal" font-family='"Liberation Sans", sans-serif' fill="#1a1a1a" stroke="#1a1a1a" stroke-width="0.18" >500</text>
<line x1="43.90" y1="492.53" x2="252.50" y2="492.53" stroke="#eaeaea" stroke-width="0.5"/>
<line x1="43.90" y1="492.53" x2="45.90" y2="492.53" stroke="#888888" stroke-width="0.4"/>
<line x1="250.50" y1="492.53" x2="252.50" y2="492.53" stroke="#888888" stroke-width="0.4"/>
<text x="42.40" y="494.28" font-size="3.95" text-anchor="end" font-weight="normal" font-family='"Liberation Sans", sans-serif' fill="#1a1a1a" stroke="#1a1a1a" stroke-width="0.18" >1000</text>
<line x1="43.90" y1="475.92" x2="252.50" y2="475.92" stroke="#eaeaea" stroke-width="0.5"/>
<line x1="43.90" y1="475.92" x2="45.90" y2="475.92" stroke="#888888" stroke-width="0.4"/>
<line x1="250.50" y1="475.92" x2="252.50" y2="475.92" stroke="#888888" stroke-width="0.4"/>
<text x="42.40" y="477.67" font-size="3.95" text-anchor="end" font-weight="normal" font-family='"Liberation Sans", sans-serif' fill="#1a1a1a" stroke="#1a1a1a" stroke-width="0.18" >1500</text>
<line x1="43.90" y1="459.31" x2="252.50" y2="459.31" stroke="#eaeaea" stroke-width="0.5"/>
<line x1="43.90" y1="459.31" x2="45.90" y2="459.31" stroke="#888888" stroke-width="0.4"/>
<line x1="250.50" y1="459.31" x2="252.50" y2="459.31" stroke="#888888" stroke-width="0.4"/>
<text x="42.40" y="461.06" font-size="3.95" text-anchor="end" font-weight="normal" font-family='"Liberation Sans", sans-serif' fill="#1a1a1a" stroke="#1a1a1a" stroke-width="0.18" >2000</text>
<line x1="43.90" y1="442.70" x2="252.50" y2="442.70" stroke="#eaeaea" stroke-width="0.5"/>
<line x1="43.90" y1="442.70" x2="45.90" y2="442.70" stroke="#888888" stroke-width="0.4"/>
<line x1="250.50" y1="442.70" x2="252.50" y2="442.70" stroke="#888888" stroke-width="0.4"/>
<text x="42.40" y="444.45" font-size="3.95" text-anchor="end" font-weight="normal" font-family='"Liberation Sans", sans-serif' fill="#1a1a1a" stroke="#1a1a1a" stroke-width="0.18" >2500</text>
<line x1="43.90" y1="426.09" x2="252.50" y2="426.09" stroke="#eaeaea" stroke-width="0.5"/>
<line x1="43.90" y1="426.09" x2="45.90" y2="426.09" stroke="#888888" stroke-width="0.4"/>
<line x1="250.50" y1="426.09" x2="252.50" y2="426.09" stroke="#888888" stroke-width="0.4"/>
<text x="42.40" y="427.84" font-size="3.95" text-anchor="end" font-weight="normal" font-family='"Liberation Sans", sans-serif' fill="#1a1a1a" stroke="#1a1a1a" stroke-width="0.18" >3000</text>
<line x1="43.90" y1="409.48" x2="252.50" y2="409.48" stroke="#eaeaea" stroke-width="0.5"/>
<line x1="43.90" y1="409.48" x2="45.90" y2="409.48" stroke="#888888" stroke-width="0.4"/>
<line x1="250.50" y1="409.48" x2="252.50" y2="409.48" stroke="#888888" stroke-width="0.4"/>
<text x="42.40" y="411.23" font-size="3.95" text-anchor="end" font-weight="normal" font-family='"Liberation Sans", sans-serif' fill="#1a1a1a" stroke="#1a1a1a" stroke-width="0.18" >3500</text>
<line x1="43.90" y1="392.87" x2="252.50" y2="392.87" stroke="#eaeaea" stroke-width="0.5"/>
<line x1="43.90" y1="392.87" x2="45.90" y2="392.87" stroke="#888888" stroke-width="0.4"/>
<line x1="250.50" y1="392.87" x2="252.50" y2="392.87" stroke="#888888" stroke-width="0.4"/>
<text x="42.40" y="394.62" font-size="3.95" text-anchor="end" font-weight="normal" font-family='"Liberation Sans", sans-serif' fill="#1a1a1a" stroke="#1a1a1a" stroke-width="0.18" >4000</text>
<line x1="43.90" y1="376.26" x2="45.90" y2="376.26" stroke="#888888" stroke-width="0.4"/>
<line x1="250.50" y1="376.26" x2="252.50" y2="376.26" stroke="#888888" stroke-width="0.4"/>
<text x="42.40" y="378.01" font-size="3.95" text-anchor="end" font-weight="normal" font-family='"Liberation Sans", sans-serif' fill="#1a1a1a" stroke="#1a1a1a" stroke-width="0.18" >4500</text>
<line x1="69.50" y1="376.35" x2="69.50" y2="525.75" stroke="#eaeaea" stroke-width="0.5"/>
<text x="69.50" y="532.00" font-size="3.9" text-anchor="middle" font-weight="normal" font-family='"Liberation Sans", sans-serif' fill="#1a1a1a" stroke="#1a1a1a" stroke-width="0.18" >reference</text>
<line x1="122.05" y1="376.35" x2="122.05" y2="525.75" stroke="#eaeaea" stroke-width="0.5"/>
<text x="122.05" y="532.00" font-size="3.9" text-anchor="middle" font-weight="normal" font-family='"Liberation Sans", sans-serif' fill="#1a1a1a" stroke="#1a1a1a" stroke-width="0.18" >all-electric</text>
<line x1="174.60" y1="376.35" x2="174.60" y2="525.75" stroke="#eaeaea" stroke-width="0.5"/>
<text x="174.60" y="532.00" font-size="3.9" text-anchor="middle" font-weight="normal" font-family='"Liberation Sans", sans-serif' fill="#1a1a1a" stroke="#1a1a1a" stroke-width="0.18" >hybrid</text>
<line x1="227.15" y1="376.35" x2="227.15" y2="525.75" stroke="#eaeaea" stroke-width="0.5"/>
<text x="227.15" y="532.00" font-size="3.9" text-anchor="middle" font-weight="normal" font-family='"Liberation Sans", sans-serif' fill="#1a1a1a" stroke="#1a1a1a" stroke-width="0.18" >district heating</text>
<text x="148.50" y="374.30" font-size="4.5" text-anchor="middle" font-weight="bold" font-family='"Liberation Sans", sans-serif' fill="#000" stroke="#000" stroke-width="0.18" >End user costs per housing type</text>
<text x="31.60" y="450.50" font-size="4.75" text-anchor="middle" font-weight="normal" font-family='"Liberation Sans", sans-serif' fill="#1a1a1a" stroke="#1a1a1a" stroke-width="0.18" transform="rotate(-90 31.60 450.50)" >Total yearly costs (euro)</text>
<rect x="51.20" y="435.20" width="7.90" height="90.55" fill="#80A838" />
<rect x="52.10" y="436.10" width="6.10" height="89.65" fill="#D0A828" />
<rect x="60.85" y="427.00" width="7.90" height="98.75" fill="#8098C8" />
<rect x="61.75" y="427.90" width="6.10" height="97.85" fill="#98A8E8" />
<rect x="70.40" y="389.70" width="7.90" height="136.05" fill="#106080" />
<rect x="71.30" y="390.60" width="6.10" height="135.15" fill="#204880" />
<rect x="80.00" y="424.50" width="7.90" height="101.25" fill="#D03030" />
<rect x="80.90" y="425.40" width="6.10" height="100.35" fill="#F23530" />
<rect x="103.75" y="429.00" width="7.90" height="96.75" fill="#B08030" />
<rect x="104.65" y="429.90" width="6.10" height="95.85" fill="#FFA028" />
<rect x="113.40" y="422.80" width="7.90" height="102.95" fill="#58B0D8" />
<rect x="114.30" y="423.70" width="6.10" height="102.05" fill="#50C4EC" />
<rect x="122.95" y="390.90" width="7.90" height="134.85" fill="#106080" />
<rect x="123.85" y="391.80" width="6.10" height="133.95" fill="#204880" />
<rect x="132.55" y="421.00" width="7.90" height="104.75" fill="#C03830" />
<rect x="133.45" y="421.90" width="6.10" height="103.85" fill="#B85030" />
<rect x="156.30" y="438.00" width="7.90" height="87.75" fill="#98A838" />
<rect x="157.20" y="438.90" width="6.10" height="86.85" fill="#C0B030" />
<rect x="165.95" y="430.00" width="7.90" height="95.75" fill="#70A8D8" />
<rect x="166.85" y="430.90" width="6.10" height="94.85" fill="#60C0F0" />
<rect x="175.50" y="399.50" width="7.90" height="126.25" fill="#106080" />
<rect x="176.40" y="400.40" width="6.10" height="125.35" fill="#08547F" />
<rect x="185.10" y="429.50" width="7.90" height="96.25" fill="#C84030" />
<rect x="186.00" y="430.40" width="6.10" height="95.35" fill="#E04030" />
<rect x="208.85" y="452.50" width="7.90" height="73.25" fill="#B09838" />
<rect x="209.75" y="453.40" width="6.10" height="72.35" fill="#E0A030" />
<rect x="218.50" y="445.00" width="7.90" height="80.75" fill="#70A8D8" />
<rect x="219.40" y="445.90" width="6.10" height="79.85" fill="#68C0F0" />
<rect x="228.05" y="420.00" width="7.90" height="105.75" fill="#283880" />
<rect x="228.95" y="420.90" width="6.10" height="104.85" fill="#204888" />
<rect x="237.65" y="446.25" width="7.90" height="79.50" fill="#B05030" />
<rect x="238.55" y="447.15" width="6.10" height="78.60" fill="#C84830" />
<rect x="80.00" y="424.50" width="7.90" height="7.50" fill="#A85830" />
<rect x="113.40" y="422.80" width="7.90" height="1.80" fill="#90A0E0" />
<rect x="165.95" y="430.00" width="7.90" height="3.00" fill="#9098E0" />
<rect x="218.50" y="445.00" width="7.90" height="2.00" fill="#9098E0" />
<rect x="132.55" y="421.00" width="7.90" height="3.80" fill="#D03030" />
<rect x="132.55" y="424.80" width="7.90" height="7.00" fill="#688030" />
<rect x="185.10" y="429.50" width="7.90" height="1.50" fill="#807030" />
<rect x="237.65" y="446.25" width="7.90" height="1.50" fill="#807030" />
<rect x="103.75" y="429.00" width="7.90" height="1.20" fill="#909030" />
<rect x="157.20" y="447.50" width="6.10" height="6.20" fill="#F8A030" />
<rect x="157.20" y="453.70" width="6.10" height="9.00" fill="#88D040" />
<rect x="157.20" y="479.00" width="6.10" height="6.00" fill="#98C838" />
<rect x="228.95" y="448.00" width="6.10" height="77.75" fill="#403080" />
<rect x="238.55" y="464.00" width="6.10" height="61.75" fill="#E04030" />
<rect x="64.85" y="434.00" width="3.00" height="40.00" fill="#78C0F0" />
<rect x="122.95" y="416.50" width="7.90" height="8.30" fill="#602880" />
<rect x="122.95" y="424.80" width="7.90" height="7.00" fill="#106878" />
<rect x="113.40" y="480.00" width="8.90" height="5.50" fill="#28D8E4" />
<rect x="114.30" y="485.50" width="7.10" height="8.50" fill="#90A8E8" />
<rect x="113.40" y="494.30" width="8.90" height="1.50" fill="#E888D0" />
<rect x="122.95" y="480.00" width="7.90" height="5.50" fill="#108080" />
<rect x="123.85" y="485.50" width="6.10" height="8.50" fill="#303E86" />
<rect x="122.95" y="494.30" width="7.90" height="1.50" fill="#A02878" />
<rect x="132.55" y="480.00" width="7.90" height="5.50" fill="#588030" />
<rect x="133.45" y="485.50" width="6.10" height="8.50" fill="#E04030" />
<rect x="132.55" y="494.30" width="7.90" height="1.50" fill="#F03050" />
<rect x="127.45" y="432.00" width="2.50" height="48.00" fill="#582080" />
<rect x="127.45" y="496.00" width="2.50" height="29.75" fill="#582080" />
<rect x="70.40" y="462.30" width="18.00" height="1.40" fill="#20B0A0" opacity="0.55"/>
<rect x="51.20" y="478.80" width="17.00" height="1.50" fill="#70D080" opacity="0.55"/>
<rect x="254.40" y="376.10" width="53.00" height="21.50" fill="#fff" stroke="#c0c0c0" stroke-width="0.5"/>
<rect x="255.20" y="377.40" width="6.40" height="3.40" fill="#B8C838" />
<text x="262.50" y="380.45" font-size="3.85" text-anchor="start" font-weight="normal" font-family='"Liberation Sans", sans-serif' fill="#1a1a1a" stroke="#1a1a1a" stroke-width="0.18" >row house 1990</text>
<rect x="255.20" y="382.70" width="6.40" height="3.40" fill="#B0A0F0" />
<text x="262.50" y="385.75" font-size="3.85" text-anchor="start" font-weight="normal" font-family='"Liberation Sans", sans-serif' fill="#1a1a1a" stroke="#1a1a1a" stroke-width="0.18" >row house 2000</text>
<rect x="255.20" y="388.00" width="6.40" height="3.40" fill="#302880" />
<text x="262.50" y="391.05" font-size="3.85" text-anchor="start" font-weight="normal" font-family='"Liberation Sans", sans-serif' fill="#1a1a1a" stroke="#1a1a1a" stroke-width="0.18" >detached 1990-2000</text>
<rect x="255.20" y="393.30" width="6.40" height="3.40" fill="#788838" />
<text x="262.50" y="396.35" font-size="3.85" text-anchor="start" font-weight="normal" font-family='"Liberation Sans", sans-serif' fill="#1a1a1a" stroke="#1a1a1a" stroke-width="0.18" >semi-detached 1990-2000</text>
<text x="166.30" y="545.00" font-size="8.9" text-anchor="middle" font-weight="bold" font-family='"Liberation Serif", serif' fill="#111" stroke="#111" stroke-width="0.18" >(d)</text>
</svg>
</body></html>
